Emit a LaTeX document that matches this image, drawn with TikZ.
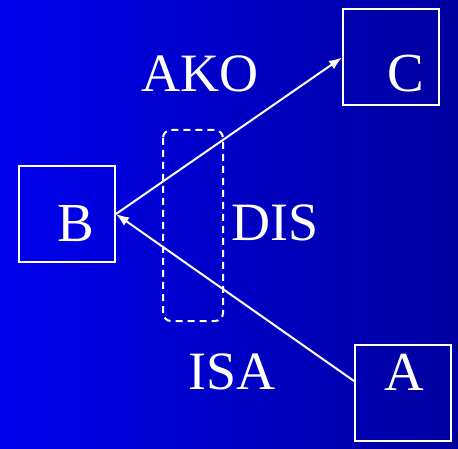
\documentclass[tikz,border=0pt]{standalone}
\usepackage{fontspec}
\setmainfont{Liberation Serif}
\usetikzlibrary{arrows.meta,positioning}
\definecolor{RelLeft}{RGB}{0,0,238}
\definecolor{RelRight}{RGB}{0,0,158}
\tikzset{
  rel/box/.style={
    draw=white,
    line width=2pt,
    fill=none,
    minimum width=96pt,
    minimum height=96pt,
    inner sep=0pt
  },
  rel/letter/.style={
    text=white,
    anchor=base,
    inner sep=0pt,
    font=\fontsize{55}{60}\selectfont
  },
  rel/label/.style={
    text=white,
    anchor=base,
    inner sep=0pt,
    font=\fontsize{54}{60}\selectfont
  },
  rel/region/.style={
    draw=white,
    line width=2pt,
    dash pattern=on 7pt off 5pt,
    rounded corners=8pt
  },
  rel/arrow/.style={-{Latex[length=13pt,width=10pt]}, line width=2pt, draw=white}
}
\begin{document}
\begin{tikzpicture}[x=1pt,y=-1pt]
  \shade[left color=RelLeft,right color=RelRight] (0,0) rectangle (458,449);
  \useasboundingbox (0,0) rectangle (458,449);

  \node[rel/box] (b) at (67,214) {};
  \node[rel/box] (c) at (391,57.5) {};
  \node[rel/box] (a) at (403,393) {};
  \node[rel/letter] (bl) at (76,242) {B};
  \node[rel/letter] (cl) at (406,92) {C};
  \node[rel/letter] (al) at (404,390) {A};

  \draw[rel/region] (163,130) rectangle (223,321);

  \node[rel/label] (ako) at (200,92) {AKO};
  \node[rel/label] (dis) at (275,241) {DIS};
  \node[rel/label] (isa) at (232,389) {ISA};

  \draw[rel/arrow] (b.east) -- (c.west);
  \draw[rel/arrow] ([yshift=12pt]a.west) -- (b.east);
\end{tikzpicture}
\end{document}
